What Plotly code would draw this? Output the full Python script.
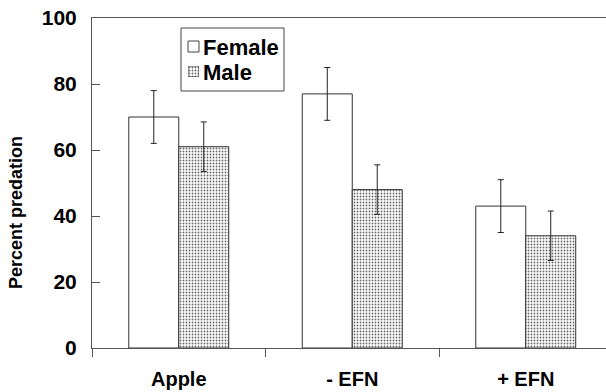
import plotly.graph_objects as go

categories = ["Apple", "- EFN", "+ EFN"]
female = [70, 77, 43]
female_err = [8, 8, 8]
male = [61, 48, 34]
male_err = [7.5, 7.5, 7.5]
y_ticks = [0, 20, 40, 60, 80, 100]
series_names = ["Female", "Male"]

FONT = "Liberation Sans, Arial, sans-serif"
L, T, W, H = 92, 18, 514, 330  # plot area in px


def px(x):
    return (x - L) / W


def py(y):
    return (T + H - y) / H


male_pattern = dict(shape=".", size=3, solidity=0.3,
                    fgcolor="#6a6a6a", bgcolor="white", fillmode="replace")

fig = go.Figure()
fig.add_trace(go.Bar(
    name=series_names[0], x=categories, y=female, showlegend=False,
    marker=dict(color="white", line=dict(color="#333333", width=1)),
    error_y=dict(type="data", array=female_err, color="#222222", thickness=1, width=3),
))
fig.add_trace(go.Bar(
    name=series_names[1], x=categories, y=male, showlegend=False,
    marker=dict(color="white", line=dict(color="#333333", width=1), pattern=male_pattern),
    error_y=dict(type="data", array=male_err, color="#222222", thickness=1, width=3),
))
# legend swatch for Male (patterned), on a tiny hidden overlay axis
fig.add_trace(go.Bar(
    x=[0], y=[1], width=[1], showlegend=False, hoverinfo="skip",
    xaxis="x2", yaxis="y2",
    marker=dict(color="white", line=dict(color="#444444", width=1), pattern=male_pattern),
))

fig.update_layout(
    width=606, height=392,
    margin=dict(l=L, r=0, t=T, b=392 - T - H),
    paper_bgcolor="white", plot_bgcolor="white",
    barmode="group", bargap=0.424, bargroupgap=0,
    font=dict(family=FONT, color="black"),
    showlegend=False,
    xaxis=dict(
        type="category", range=[-0.5, 2.4625], automargin=False,
        showline=True, linecolor="#555555", linewidth=1, mirror=True,
        ticks="outside", ticklen=8, tickcolor="#555555", tickson="boundaries",
        tickfont=dict(size=20, family=FONT, weight="bold"),
        ticklabelstandoff=13, showgrid=False, zeroline=False,
    ),
    yaxis=dict(
        range=[0, 100], tickvals=y_ticks, automargin=False,
        showline=True, linecolor="#555555", linewidth=1,
        ticks="inside", ticklen=8, tickcolor="#555555",
        tickfont=dict(size=21, family=FONT, weight="bold"),
        ticklabelstandoff=10, showgrid=False, zeroline=False,
    ),
    xaxis2=dict(domain=[px(188), px(199)], range=[-0.5, 0.5], visible=False,
                anchor="y2", fixedrange=True),
    yaxis2=dict(domain=[py(77), py(66)], range=[0, 1], visible=False,
                anchor="x2", fixedrange=True),
    shapes=[
        dict(type="rect", xref="paper", yref="paper",
             x0=px(181), x1=px(284), y0=py(91), y1=py(28),
             line=dict(color="#444444", width=1), fillcolor="rgba(0,0,0,0)"),
        dict(type="rect", xref="paper", yref="paper",
             x0=px(188), x1=px(199), y0=py(52), y1=py(41),
             line=dict(color="#444444", width=1), fillcolor="white"),
    ],
    annotations=[
        dict(text="Percent predation", textangle=-90,
             xref="paper", yref="paper", x=px(16), y=py(213),
             xanchor="center", yanchor="middle", showarrow=False,
             font=dict(size=18, family=FONT, weight="bold")),
        dict(text=series_names[0], xref="paper", yref="paper", x=px(201), y=py(47),
             xanchor="left", yanchor="middle", showarrow=False,
             font=dict(size=22, family=FONT, weight="bold")),
        dict(text=series_names[1], xref="paper", yref="paper", x=px(201), y=py(72),
             xanchor="left", yanchor="middle", showarrow=False,
             font=dict(size=22, family=FONT, weight="bold")),
    ],
)

fig.write_html("out.html", config={"displayModeBar": False},
               post_script="document.body.style.margin='0';document.body.style.overflow='hidden';")
